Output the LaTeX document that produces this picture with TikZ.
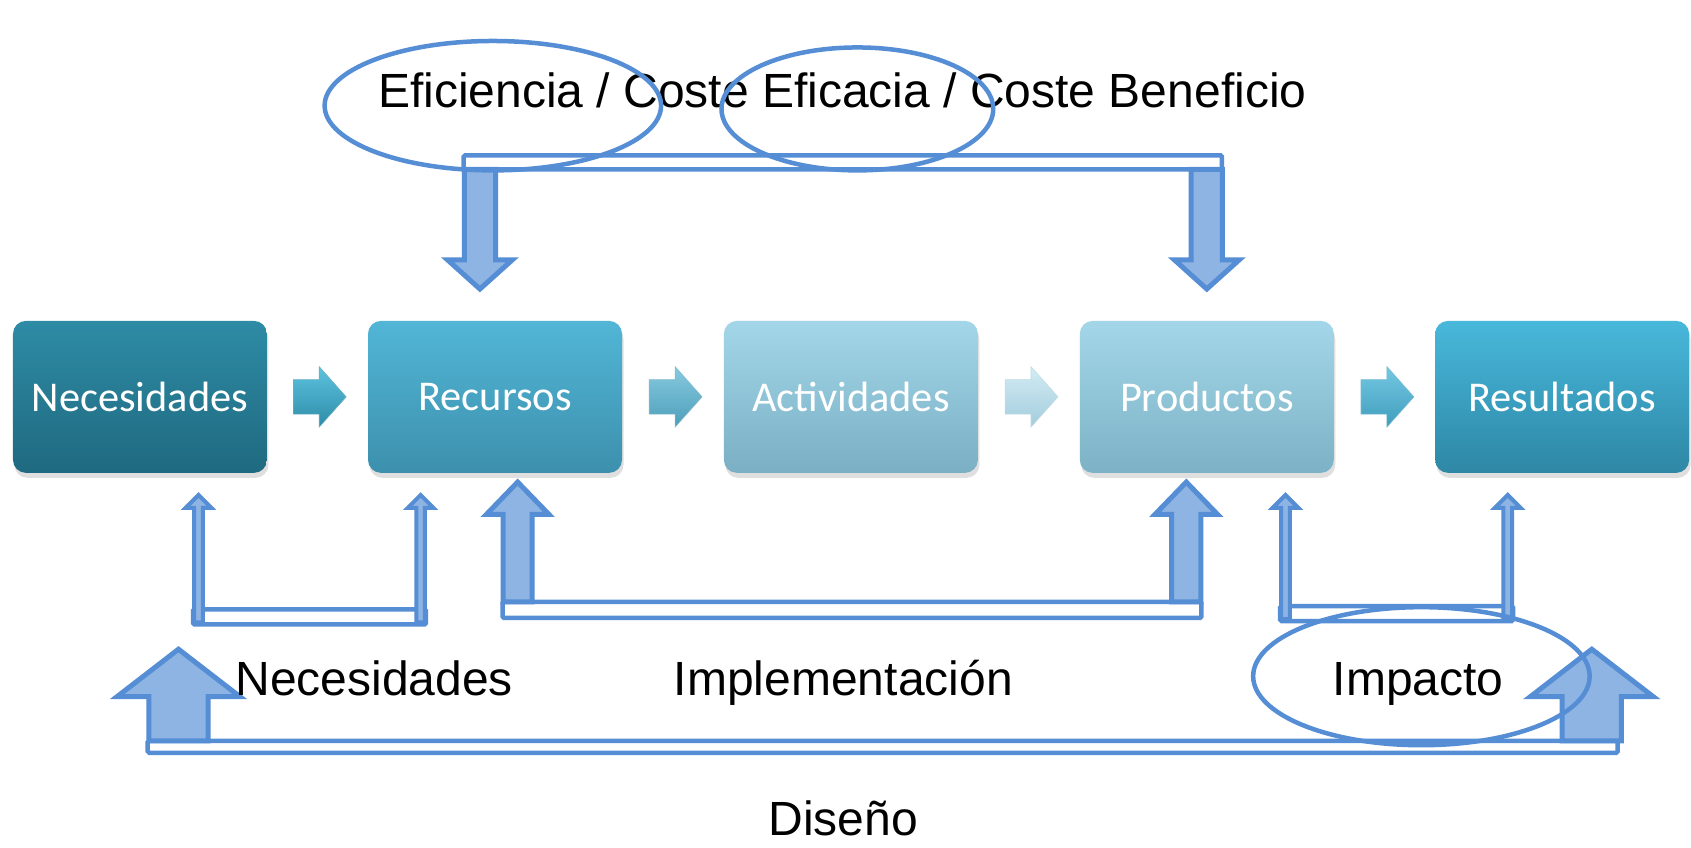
\documentclass[tikz,border=0pt]{standalone}
\usepackage{fontspec}
\setmainfont{Liberation Sans}
\newfontfamily\boxfont{Carlito}
\usetikzlibrary{shapes.geometric,shadows}
\definecolor{aline}{HTML}{558ED5}
\definecolor{afill}{HTML}{8EB4E3}
\definecolor{necT}{HTML}{2E8BA5}\definecolor{necB}{HTML}{1F6A80}
\definecolor{recT}{HTML}{52B6D6}\definecolor{recB}{HTML}{3C90AD}
\definecolor{actT}{HTML}{A3D6E8}\definecolor{actB}{HTML}{7AAFC4}
\definecolor{proT}{HTML}{A3D6E8}\definecolor{proB}{HTML}{7DB2C6}
\definecolor{resT}{HTML}{48B8DB}\definecolor{resB}{HTML}{2E87A5}
\definecolor{c1T}{HTML}{5CC3DF}\definecolor{c1B}{HTML}{2E8CA8}
\definecolor{c2T}{HTML}{86CAE0}\definecolor{c2B}{HTML}{4E9EB9}
\definecolor{c3T}{HTML}{D2ECF4}\definecolor{c3B}{HTML}{A3CCDC}
\definecolor{c4T}{HTML}{74C8E2}\definecolor{c4B}{HTML}{3F9DBD}
\tikzset{
  procbox/.style={rounded corners=13pt, minimum width=254pt, minimum height=152pt, inner sep=0pt,
    text=white, font=\boxfont\fontsize{42.4}{48}\selectfont,
    drop shadow={shadow xshift=1.5pt, shadow yshift=-5pt, opacity=0.25}},
  blockarr/.style={draw=aline, fill=afill, line width=5pt, line join=miter},
  hollowbar/.style={draw=aline, fill=white, line width=4.5pt, rounded corners=1.5pt},
  ring/.style={draw=aline, line width=4.5pt},
  lbl/.style={font=\fontsize{48}{55}\selectfont, anchor=base, inner sep=0pt},
}
% vertical block arrow: xc, ybase, yneck, ytip, body half width, head half width
\newcommand\vblock[7][]{%
  \draw[blockarr,#1] ({#2-#6},#3) -- ({#2-#6},#4) -- ({#2-#7},#4) -- (#2,#5) -- ({#2+#7},#4) -- ({#2+#6},#4) -- ({#2+#6},#3) -- cycle;}
% horizontal chevron: x0, xneck, xtip, yc, body half, head half, top col, bottom col
\newcommand\hblock[8]{%
  \shade[top color=#7, bottom color=#8, draw=#8!70!white, line width=0.6pt]
    (#1,{#4-#5}) -- (#2,{#4-#5}) -- (#2,{#4-#6}) -- (#3,#4) -- (#2,{#4+#6}) -- (#2,{#4+#5}) -- (#1,{#4+#5}) -- cycle;}
\begin{document}
\begin{tikzpicture}[x=1.0784pt,y=-1.0784pt]
\useasboundingbox[fill=white] (0,0) rectangle (1568,785.4);

% process boxes
\node[procbox, top color=necT, bottom color=necB] (nec) at (129.8,368) {Necesidades};
\node[procbox, top color=recT, bottom color=recB] (rec) at (459,368) {Recursos};
\node[procbox, top color=actT, bottom color=actB] (act) at (789,368) {Actividades};
\node[procbox, top color=proT, bottom color=proB] (pro) at (1119,368) {Productos};
\node[procbox, top color=resT, bottom color=resB] (res) at (1448.5,368) {Resultados};

% chevrons between boxes
\hblock{272}{296}{321}{368}{16}{28}{c1T}{c1B}
\hblock{602}{626}{651}{368}{16}{28}{c2T}{c2B}
\hblock{932}{956}{981}{368}{16}{28}{c3T}{c3B}
\hblock{1262}{1286}{1311}{368}{16}{28}{c4T}{c4B}

% top bracket
\draw[hollowbar] (430,144) rectangle (1133,157);
\vblock{445}{157}{241}{268}{14.5}{30}
\vblock{1119}{157}{241}{268}{14.5}{30}

% bottom-left bracket (Necesidades)
\draw[hollowbar] (179,565) rectangle (395,579);
\vblock[line width=4pt]{184}{577}{471}{459}{4}{12}
\vblock[line width=4pt]{390}{577}{471}{459}{4}{12}

% middle bracket (Implementacion)
\draw[hollowbar] (466,558) rectangle (1114,573);
\vblock{480}{558}{477}{447}{13.5}{29}
\vblock{1100}{558}{477}{447}{13.5}{29}

% right bracket (Impacto)
\draw[hollowbar] (1187,562) rectangle (1403,576);
\vblock[line width=4pt]{1192}{574}{471}{459}{4}{12}
\vblock[line width=4pt]{1398}{574}{471}{459}{4}{12}

% bottom bracket (Diseno)
\draw[hollowbar] (137,687) rectangle (1500,698);
\vblock{165.5}{687}{646}{602}{27.5}{57}
\vblock{1476}{687}{646}{602}{27.5}{57}

% labels
\node[lbl] (t1) at (781,100) {Eficiencia / Coste Eficacia / Coste Beneficio};
\node[lbl] (l1) at (347,645) {Necesidades};
\node[lbl] (l2) at (782,645) {Implementación};
\node[lbl] (l3) at (1315,645) {Impacto};
\node[lbl] (l4) at (782,775) {Diseño};

% ellipses
\draw[ring] (457,98) ellipse [x radius=156, y radius=60];
\draw[ring] (795,101) ellipse [x radius=126, y radius=57];
\draw[ring] (1318,627) ellipse [x radius=156, y radius=64];
\end{tikzpicture}
\end{document}
